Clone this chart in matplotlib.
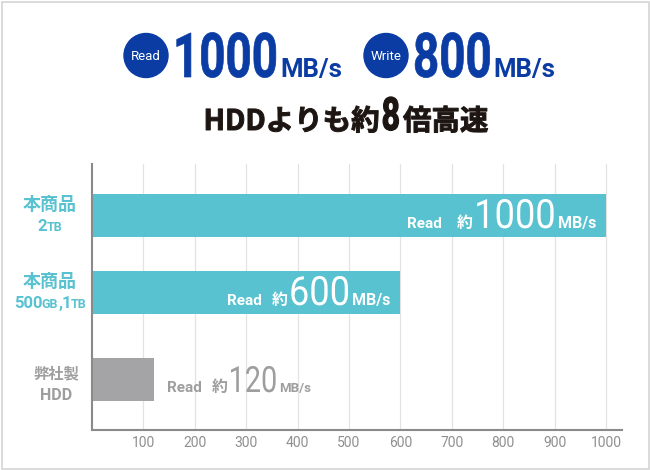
import matplotlib
matplotlib.use("Agg")
import matplotlib.pyplot as plt
from matplotlib.patches import Circle, Rectangle
from matplotlib.patheffects import AbstractPathEffect
from matplotlib.transforms import Affine2D

# data
products = ["本商品", "本商品", "弊社製"]
models = [[("2", "n"), ("TB", "s")],
          [("500", "n"), ("GB", "s"), (",1", "n"), ("TB", "s")],
          [("HDD", "n")]]
read_speed = [1000, 600, 120]
read_text = ["1000", "600", "120"]
head_read = "1000"
head_write = "800"
ticks = list(range(100, 1001, 100))

# style
BLUE = "#0a3ca4"
CYAN = "#58c2d1"
GRAYBAR = "#a4a4a6"
GRAYTXT = "#9e9e9e"
DARK = "#1d1512"
LATIN = ["Roboto", "DejaVu Sans"]
JP = ["Noto Sans CJK JP", "DejaVu Sans"]
plt.rcParams["font.family"] = JP

row_y = [215, 292, 379]      # bar centres, px from top
bar_h = 43
label_cx = [50, 50, 56]
label_dy = [0, 0, 5]
bar_colors = [CYAN, CYAN, GRAYBAR]
num_pt = [29, 29, 26]
num_sx = [0.9, 0.9, 0.8]
unit_pt = [11.5, 11.5, 9.5]


class Tall(AbstractPathEffect):
    # stretch glyphs upward (smaller font looks condensed), optional outline for extra weight
    def __init__(self, sy, lw=0):
        super().__init__()
        self.sy = sy
        self.lw = lw

    def draw_path(self, renderer, gc, tpath, affine, rgbFace=None):
        aff = Affine2D().scale(1, self.sy) + affine
        if self.lw:
            gc0 = renderer.new_gc()
            gc0.copy_properties(gc)
            gc0.set_linewidth(self.lw)
            gc0.set_foreground(rgbFace)
            gc0.set_joinstyle("round")
            renderer.draw_path(gc0, tpath, aff, rgbFace)
            gc0.restore()
        else:
            renderer.draw_path(gc, tpath, aff, rgbFace)


fig = plt.figure(figsize=(6.5, 4.7), dpi=100)
ax = fig.add_axes([92 / 650, 40 / 470, 530 / 650, 266 / 470])
ax.set_xlim(0, 1031)
ax.set_ylim(430, 164)

ax.barh(row_y, read_speed, height=bar_h, color=bar_colors, zorder=2)
ax.set_xticks(ticks)
ax.set_xticklabels([str(t) for t in ticks], family=LATIN, fontsize=10, color="#8f8f8f")
ax.set_yticks([])
ax.tick_params(axis="x", length=0, pad=4)
ax.grid(axis="x", color="#e3e3e3", lw=0.9, zorder=0)
ax.set_axisbelow(True)
for s in ["top", "right"]:
    ax.spines[s].set_visible(False)
for s in ["left", "bottom"]:
    ax.spines[s].set_color("#8a8a8a")
    ax.spines[s].set_linewidth(1.5)

ov = fig.add_axes([0, 0, 1, 1])
ov.set_xlim(0, 650)
ov.set_ylim(470, 0)
ov.axis("off")
renderer = fig.canvas.get_renderer()


def chain(x, y, pieces, ha="left"):
    texts, widths = [], []
    for s, st in pieces:
        sx = st.get("sx", 1.0)
        lw = st.get("lw", 0)
        t = ov.text(0, y, s, fontsize=st["size"] * sx, family=st.get("family", LATIN),
                    weight=st.get("weight", "bold"), color=st["color"],
                    ha="left", va="baseline")
        if sx != 1.0 or lw:
            t.set_path_effects([Tall(1 / sx, lw)])
        texts.append(t)
        widths.append(t.get_window_extent(renderer).width + st.get("gap", 0))
    total = sum(widths)
    if ha == "center":
        x = x - total / 2
    elif ha == "right":
        x = x - total
    for t, w in zip(texts, widths):
        t.set_x(x)
        x += w


def to_px(xd, yd):
    return ov.transData.inverted().transform(ax.transData.transform((xd, yd)))


# border
ov.add_patch(Rectangle((1.5, 1.5), 647, 467, fill=False, ec="#d4d4d4", lw=1.2))

# headline
for cx, word, num in [(146, "Read", head_read), (386, "Write", head_write)]:
    ov.add_patch(Circle((cx, 55.5), 22, color=BLUE))
    ov.text(cx, 55.5, word, ha="center", va="center_baseline", fontsize=9.5,
            family=LATIN, color="white")
    chain(cx + 27, 77, [(num, dict(size=44.5, color=BLUE, sx=0.74, lw=0.5, gap=2)),
                        ("MB/s", dict(size=18.5, color=BLUE))])

chain(346, 130, [("HDDよりも約", dict(size=20.5, family=JP, color=DARK, lw=0.7, gap=2)),
                 ("8", dict(size=33, color=DARK, sx=0.7, lw=0.9, gap=3)),
                 ("倍高速", dict(size=20.5, family=JP, color=DARK, lw=0.7))], ha="center")

# category labels
for i in range(3):
    color = CYAN if i < 2 else GRAYTXT
    yc = to_px(0, row_y[i])[1] + label_dy[i]
    size = 13 if i < 2 else 11
    chain(label_cx[i], yc - 5.5, [(products[i], dict(size=size, family=JP, color=color))], ha="center")
    pieces = []
    for s, kind in models[i]:
        if i == 2:
            pieces.append((s, dict(size=11.5, color=color)))
        elif kind == "n":
            pieces.append((s, dict(size=12, color=color, gap=-1.5 if s == ",1" else -0.5)))
        else:
            pieces.append((s, dict(size=9, color=color)))
    chain(label_cx[i], yc + 16, pieces, ha="center")

# value labels
for i in range(3):
    px, py = to_px(read_speed[i], row_y[i])
    color = "white" if i < 2 else GRAYTXT
    gap1 = 15 if i == 0 else 10
    pieces = [("Read", dict(size=11, color=color, gap=gap1)),
              ("約", dict(size=11.5, family=JP, color=color, gap=1)),
              (read_text[i], dict(size=num_pt[i], weight="normal", color=color, sx=num_sx[i], gap=2)),
              ("MB/s", dict(size=unit_pt[i], color=color))]
    if i < 2:
        chain(px - 10, py + 13, pieces, ha="right")
    else:
        chain(px + 13, py + 13, pieces, ha="left")

fig.savefig("out.png", dpi=100)
